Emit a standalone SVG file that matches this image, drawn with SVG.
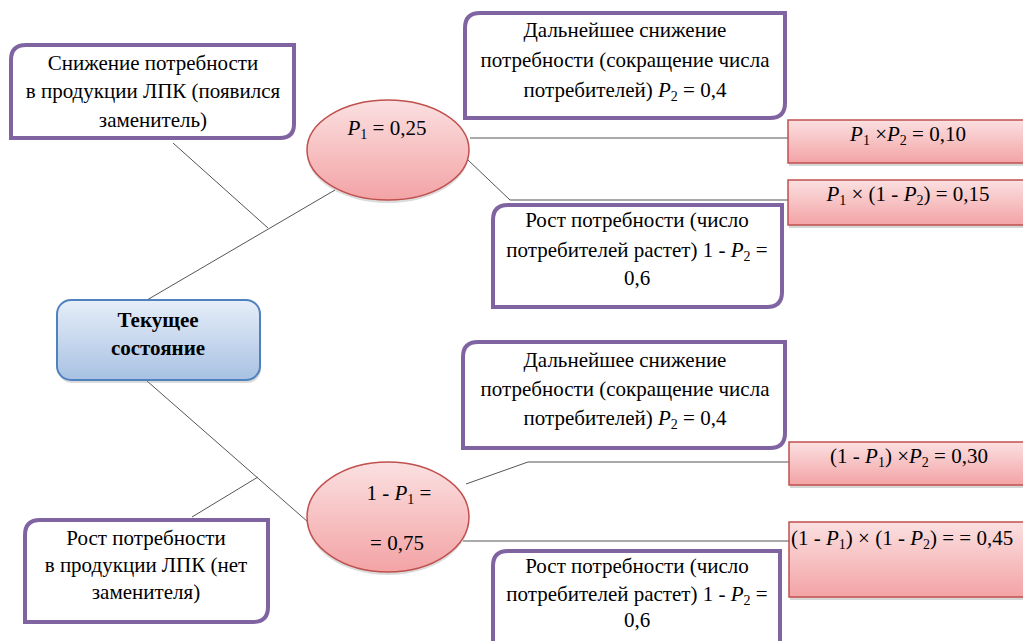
<svg xmlns="http://www.w3.org/2000/svg" width="1023" height="641" viewBox="0 0 1023 641">
<defs>
<linearGradient id="gPink" x1="0" y1="0" x2="0" y2="1">
<stop offset="0" stop-color="#FBE0E1"/>
<stop offset="1" stop-color="#F3A3A5"/>
</linearGradient>
<linearGradient id="gBlue" x1="0" y1="0" x2="0" y2="1">
<stop offset="0" stop-color="#E6EEF8"/>
<stop offset="1" stop-color="#A8C1E3"/>
</linearGradient>
</defs>
<g id="connectors" fill="none" stroke="#555" stroke-width="1">
<line x1="147" y1="300" x2="335" y2="190"/>
<line x1="173" y1="143" x2="268" y2="228"/>
<line x1="147" y1="381" x2="308" y2="522"/>
<line x1="192" y1="517" x2="258" y2="477"/>
<line x1="470" y1="138" x2="788" y2="138"/>
<polyline points="468,160 510,200 788,200"/>
<polyline points="466,484 528,462 789,462"/>
<line x1="463" y1="541" x2="789" y2="541"/>
</g>
<g id="node-decrease">
<path fill="#fff" stroke="#8064A2" stroke-width="4" d="M26,45 H294 V124 Q294,138 280,138 H11 V60 Q11,45 26,45 Z"/>
<text font-family="Liberation Serif" font-size="21" text-anchor="middle" x="153" y="70">Снижение потребности</text>
<text font-family="Liberation Serif" font-size="21" text-anchor="middle" x="153" y="98">в продукции ЛПК (появился</text>
<text font-family="Liberation Serif" font-size="21" text-anchor="middle" x="153" y="127">заменитель)</text>
</g>
<g id="node-p1">
<ellipse fill="#999" opacity="0.35" cx="388" cy="153" rx="81" ry="50"/>
<ellipse fill="url(#gPink)" stroke="#C0504D" stroke-width="1.5" cx="388" cy="150" rx="81" ry="50"/>
<text font-family="Liberation Serif" font-size="21" text-anchor="middle" x="387" y="135"><tspan font-style="italic">P</tspan><tspan font-size="14" dy="4">1</tspan><tspan dy="-4"> = 0,25</tspan></text>
</g>
<g id="node-further1">
<path fill="#fff" stroke="#8064A2" stroke-width="4" d="M480,13 H785 V103 Q785,118 770,118 H465 V28 Q465,13 480,13 Z"/>
<text font-family="Liberation Serif" font-size="21" text-anchor="middle" x="625" y="37">Дальнейшее снижение</text>
<text font-family="Liberation Serif" font-size="21" text-anchor="middle" x="625" y="67">потребности (сокращение числа</text>
<text font-family="Liberation Serif" font-size="21" text-anchor="middle" x="625" y="97">потребителей) <tspan font-style="italic">P</tspan><tspan font-size="14" dy="4">2</tspan><tspan dy="-4"> = 0,4</tspan></text>
</g>
<g id="node-r1">
<rect fill="#999" opacity="0.4" x="789" y="123" width="242" height="43"/>
<rect fill="url(#gPink)" stroke="#C0504D" stroke-width="1.5" x="788" y="120" width="242" height="43"/>
<text font-family="Liberation Serif" font-size="21" text-anchor="middle" x="908" y="141"><tspan font-style="italic">P</tspan><tspan font-size="14" dy="4">1</tspan><tspan dy="-4"> ×</tspan><tspan font-style="italic">P</tspan><tspan font-size="14" dy="4">2</tspan><tspan dy="-4"> = 0,10</tspan></text>
</g>
<g id="node-r2">
<rect fill="#999" opacity="0.4" x="789" y="183" width="242" height="45"/>
<rect fill="url(#gPink)" stroke="#C0504D" stroke-width="1.5" x="788" y="180" width="242" height="45"/>
<text font-family="Liberation Serif" font-size="21" text-anchor="middle" x="908" y="201"><tspan font-style="italic">P</tspan><tspan font-size="14" dy="4">1</tspan><tspan dy="-4"> × (1 - </tspan><tspan font-style="italic">P</tspan><tspan font-size="14" dy="4">2</tspan><tspan dy="-4">) = 0,15</tspan></text>
</g>
<g id="node-growth1">
<path fill="#fff" stroke="#8064A2" stroke-width="4" d="M508,205 H782 V292 Q782,307 767,307 H493 V220 Q493,205 508,205 Z"/>
<text font-family="Liberation Serif" font-size="21" text-anchor="middle" x="637" y="227">Рост потребности (число</text>
<text font-family="Liberation Serif" font-size="21" text-anchor="middle" x="637" y="257">потребителей растет) 1 - <tspan font-style="italic">P</tspan><tspan font-size="14" dy="4">2</tspan><tspan dy="-4"> =</tspan></text>
<text font-family="Liberation Serif" font-size="21" text-anchor="middle" x="637" y="285">0,6</text>
</g>
<g id="node-current">
<rect fill="#999" opacity="0.35" x="58" y="303" width="203" height="80" rx="14"/>
<rect fill="url(#gBlue)" stroke="#4F81BD" stroke-width="2" x="57" y="300" width="203" height="80" rx="14"/>
<text font-family="Liberation Serif" font-size="21" font-weight="bold" text-anchor="middle" x="158" y="327">Текущее</text>
<text font-family="Liberation Serif" font-size="21" font-weight="bold" text-anchor="middle" x="158" y="355">состояние</text>
</g>
<g id="node-further2">
<path fill="#fff" stroke="#8064A2" stroke-width="4" d="M478,342 H785 V433 Q785,448 770,448 H463 V357 Q463,342 478,342 Z"/>
<text font-family="Liberation Serif" font-size="21" text-anchor="middle" x="625" y="367">Дальнейшее снижение</text>
<text font-family="Liberation Serif" font-size="21" text-anchor="middle" x="625" y="396">потребности (сокращение числа</text>
<text font-family="Liberation Serif" font-size="21" text-anchor="middle" x="625" y="425">потребителей) <tspan font-style="italic">P</tspan><tspan font-size="14" dy="4">2</tspan><tspan dy="-4"> = 0,4</tspan></text>
</g>
<g id="node-p1c">
<ellipse fill="#999" opacity="0.35" cx="388" cy="520" rx="81" ry="55"/>
<ellipse fill="url(#gPink)" stroke="#C0504D" stroke-width="1.5" cx="388" cy="517" rx="81" ry="55"/>
<text font-family="Liberation Serif" font-size="21" text-anchor="middle" x="399" y="500">1 - <tspan font-style="italic">P</tspan><tspan font-size="14" dy="4">1</tspan><tspan dy="-4"> =</tspan></text>
<text font-family="Liberation Serif" font-size="21" text-anchor="middle" x="397" y="550">= 0,75</text>
</g>
<g id="node-r3">
<rect fill="#999" opacity="0.4" x="790" y="445" width="242" height="43"/>
<rect fill="url(#gPink)" stroke="#C0504D" stroke-width="1.5" x="789" y="442" width="242" height="43"/>
<text font-family="Liberation Serif" font-size="21" text-anchor="middle" x="909" y="463">(1 - <tspan font-style="italic">P</tspan><tspan font-size="14" dy="4">1</tspan><tspan dy="-4">) ×</tspan><tspan font-style="italic">P</tspan><tspan font-size="14" dy="4">2</tspan><tspan dy="-4"> = 0,30</tspan></text>
</g>
<g id="node-r4">
<rect fill="#999" opacity="0.4" x="790" y="525" width="242" height="75"/>
<rect fill="url(#gPink)" stroke="#C0504D" stroke-width="1.5" x="789" y="522" width="242" height="75"/>
<text font-family="Liberation Serif" font-size="21" x="791" y="545">(1 - <tspan font-style="italic">P</tspan><tspan font-size="14" dy="4">1</tspan><tspan dy="-4">) × (1 - </tspan><tspan font-style="italic">P</tspan><tspan font-size="14" dy="4">2</tspan><tspan dy="-4">) = = 0,45</tspan></text>
</g>
<g id="node-growth2">
<path fill="#fff" stroke="#8064A2" stroke-width="4" d="M508,551 H780 V640 Q780,655 765,655 H493 V566 Q493,551 508,551 Z"/>
<text font-family="Liberation Serif" font-size="21" text-anchor="middle" x="637" y="573">Рост потребности (число</text>
<text font-family="Liberation Serif" font-size="21" text-anchor="middle" x="637" y="601">потребителей растет) 1 - <tspan font-style="italic">P</tspan><tspan font-size="14" dy="4">2</tspan><tspan dy="-4"> =</tspan></text>
<text font-family="Liberation Serif" font-size="21" text-anchor="middle" x="637" y="627">0,6</text>
</g>
<g id="node-increase">
<path fill="#fff" stroke="#8064A2" stroke-width="4" d="M40,520 H268 V607 Q268,622 253,622 H25 V535 Q25,520 40,520 Z"/>
<text font-family="Liberation Serif" font-size="21" text-anchor="middle" x="146" y="545">Рост потребности</text>
<text font-family="Liberation Serif" font-size="21" text-anchor="middle" x="146" y="572">в продукции ЛПК (нет</text>
<text font-family="Liberation Serif" font-size="21" text-anchor="middle" x="146" y="599">заменителя)</text>
</g>
</svg>
